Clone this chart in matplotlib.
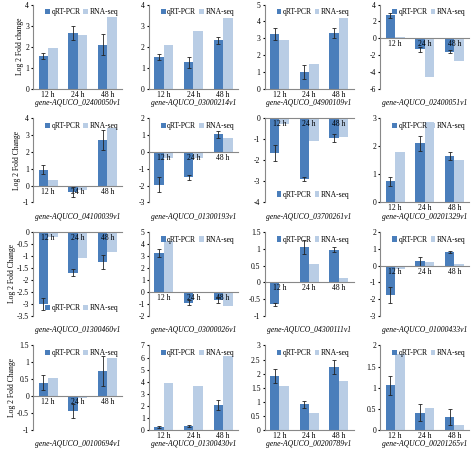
import matplotlib.pyplot as plt
import numpy as np

plt.rcParams['font.family'] = ['Liberation Serif', 'DejaVu Serif']

times = ["12 h", "24 h", "48 h"]
genes = ["gene-AQUCO_02400050v1", "gene-AQUCO_03000214v1", "gene-AQUCO_04900109v1", "gene-AQUCO_02400051v1",
         "gene-AQUCO_04100039v1", "gene-AQUCO_01300193v1", "gene-AQUCO_03700261v1", "gene-AQUCO_00201329v1",
         "gene-AQUCO_01300460v1", "gene-AQUCO_03000026v1", "gene-AQUCO_04300111v1", "gene-AQUCO_01000433v1",
         "gene-AQUCO_00100694v1", "gene-AQUCO_01300430v1", "gene-AQUCO_00200789v1", "gene-AQUCO_00201265v1"]
qpcr = [[1.55, 2.65, 2.1], [1.5, 1.25, 2.3], [3.25, 1.0, 3.3], [2.75, -1.3, -1.6],
        [0.95, -0.4, 2.7], [-1.95, -1.5, 1.05], [-1.65, -2.9, -0.95], [0.75, 2.1, 1.65],
        [-3.0, -1.7, -1.25], [3.25, -0.9, -0.7], [-0.65, 1.05, 0.97], [-1.75, 0.25, 0.8],
        [0.4, -0.45, 0.75], [0.25, 0.3, 2.05], [1.9, 0.9, 2.25], [1.05, 0.4, 0.3]]
qerr = [[0.15, 0.35, 0.5], [0.15, 0.25, 0.15], [0.35, 0.4, 0.3], [0.3, 0.3, 0.15],
        [0.25, 0.3, 0.6], [0.45, 0.15, 0.2], [0.4, 0.1, 0.2], [0.15, 0.25, 0.15],
        [0.25, 0.15, 0.3], [0.3, 0.2, 0.25], [0.05, 0.2, 0.07], [0.45, 0.25, 0.07],
        [0.22, 0.2, 0.45], [0.08, 0.08, 0.4], [0.25, 0.12, 0.25], [0.22, 0.2, 0.18]]
rnaseq = [[1.95, 2.55, 3.4], [2.1, 2.75, 3.35], [2.9, 1.45, 4.2], [0.2, -4.6, -2.7],
          [0.35, -0.25, 3.4], [-0.35, -0.35, 0.85], [-0.25, -1.1, -0.9], [1.8, 2.85, 1.5],
          [-0.2, -1.1, -0.85], [4.2, -0.1, -1.2], [-0.02, 0.55, 0.13], [-0.2, 0.2, 0.1],
          [0.53, -0.05, 1.12], [3.85, 3.65, 6.1], [1.55, 0.6, 1.75], [1.8, 0.52, 0.12]]
ylims = [(0, 4), (0, 4), (0, 5), (-6, 4), (-1, 4), (-3, 2), (-4, 0), (0, 3),
         (-3.5, 0), (-2, 5), (-1, 1.5), (-3, 2), (-1, 1.5), (0, 7), (0, 3), (0, 2)]
ysteps = [1, 1, 1, 2, 1, 1, 1, 1, 0.5, 1, 0.5, 1, 0.5, 1, 0.5, 0.5]
legend_bottom = {6, 8}
ylabels = {0: "Log 2 Fold change", 4: "Log 2 Fold Change", 8: "Log 2 Fold Change", 12: "Log 2 Fold Change"}

dark = "#4a7ebb"
light = "#b9cde5"

fig, axes = plt.subplots(4, 4, figsize=(4.74, 4.62), dpi=100)
x = np.arange(3)
w = 0.32
for i, ax in enumerate(axes.flat):
    ax.bar(x - w/2, qpcr[i], w, color=dark, yerr=qerr[i], ecolor='#222222',
           error_kw=dict(elinewidth=0.6, capsize=1.5, capthick=0.6), label="qRT-PCR")
    ax.bar(x + w/2, rnaseq[i], w, color=light, label="RNA-seq")
    lo, hi = ylims[i]
    ax.set_ylim(lo, hi)
    ax.set_xlim(-0.5, 2.5)
    ax.set_yticks(np.arange(lo, hi + 1e-9, ysteps[i]))
    ax.yaxis.set_major_formatter(plt.FuncFormatter(lambda v, p: f"{v:g}"))
    ax.spines['top'].set_visible(False)
    ax.spines['right'].set_visible(False)
    ax.spines['bottom'].set_position(('data', 0))
    ax.spines['bottom'].set_color('#888888')
    ax.spines['left'].set_color('#888888')
    ax.set_xticks(x)
    ax.set_xticklabels(times)
    ax.tick_params(axis='both', labelsize=5.5, length=0, pad=1.5)
    ax.tick_params(axis='y', length=1.5)
    ax.set_xlabel(genes[i], fontsize=5.5, style='italic', labelpad=1)
    ax.xaxis.set_label_coords(0.5, -0.12)
    if i in ylabels:
        ax.set_ylabel(ylabels[i], fontsize=5.5, labelpad=1)
    loc = 'lower right' if i in legend_bottom else 'upper right'
    ax.legend(fontsize=5.5, frameon=False, ncol=2, loc=loc, handlelength=0.6,
              handletextpad=0.2, columnspacing=0.4, borderaxespad=0.1)

fig.subplots_adjust(left=0.07, right=0.99, top=0.99, bottom=0.07, wspace=0.3, hspace=0.35)
fig.savefig("out.png", dpi=100)
